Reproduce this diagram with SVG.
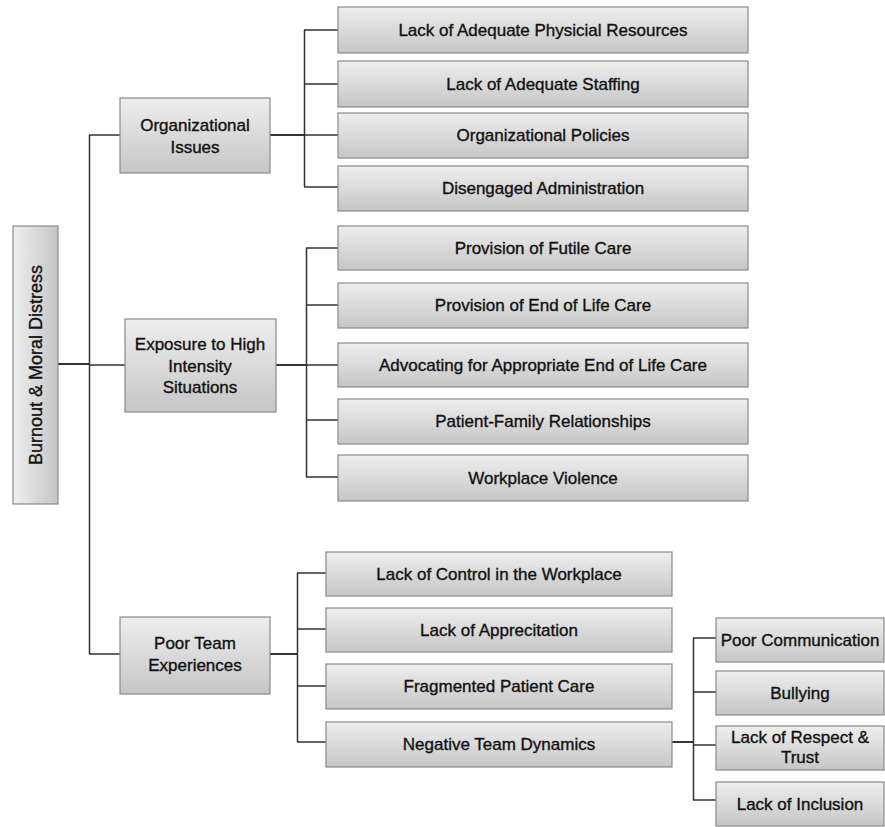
<svg xmlns="http://www.w3.org/2000/svg" width="885" height="827" viewBox="0 0 885 827">
<defs>
<linearGradient id="gv" x1="0" y1="0" x2="0" y2="1">
<stop offset="0" stop-color="#eeeeee"/>
<stop offset="1" stop-color="#c6c6c6"/>
</linearGradient>
<linearGradient id="gh" x1="0" y1="0" x2="1" y2="0">
<stop offset="0" stop-color="#eeeeee"/>
<stop offset="1" stop-color="#c6c6c6"/>
</linearGradient>
<style>
rect.b{fill:url(#gv);stroke:#8a8a8a;stroke-width:1.2}
rect.r{fill:url(#gh);stroke:#8a8a8a;stroke-width:1.2}
text{font-family:"Liberation Sans",Arial,sans-serif;font-size:17px;fill:#111;stroke:#111;stroke-width:0.35;text-anchor:middle}
#connectors path{fill:none;stroke:#333;stroke-width:1.5}
#connectors path.t{stroke-width:2}
</style>
</defs>
<rect width="885" height="827" fill="#fff"/>
<g id="connectors">
<path class="t" d="M58 364H90"/>
<path d="M89.5 135V654"/>
<path d="M89 135H120M89 365H125M89 654H120"/>
<path class="t" d="M270 135H305M276 365H306M270 654H297M672 742H693"/>
<path d="M304.5 30V187M304 30H338M304 84H338M304 135H338M304 187H338"/>
<path d="M306.5 248V477M306 248H338M306 305H338M306 365H338M306 420H338M306 477H338"/>
<path d="M297.5 573V742M297 573H326M297 629H326M297 686H326M297 742H326"/>
<path d="M693.5 638V800M693 638H716M693 692H716M693 745H716M693 800H716"/>
</g>
<g id="root"><rect class="r" x="13" y="226" width="45" height="278"/><text transform="translate(41.5 365) rotate(-90)" style="font-size:18px">Burnout &amp; Moral Distress</text></g>
<g id="org"><rect class="b" x="120" y="98" width="150" height="75"/><text x="195" y="131">Organizational</text><text x="195" y="153">Issues</text></g>
<g id="exp"><rect class="b" x="125" y="319" width="151" height="93"/><text x="200" y="350">Exposure to High</text><text x="200" y="372">Intensity</text><text x="200" y="393">Situations</text></g>
<g id="team"><rect class="b" x="120" y="617" width="150" height="77"/><text x="195" y="649">Poor Team</text><text x="195" y="671">Experiences</text></g>
<g id="o1"><rect class="b" x="338" y="7" width="410" height="46"/><text x="543" y="36">Lack of Adequate Physicial Resources</text></g>
<g id="o2"><rect class="b" x="338" y="61" width="410" height="46"/><text x="543" y="90">Lack of Adequate Staffing</text></g>
<g id="o3"><rect class="b" x="338" y="113" width="410" height="45"/><text x="543" y="141">Organizational Policies</text></g>
<g id="o4"><rect class="b" x="338" y="166" width="410" height="45"/><text x="543" y="194">Disengaged Administration</text></g>
<g id="e1"><rect class="b" x="338" y="226" width="410" height="44"/><text x="543" y="254">Provision of Futile Care</text></g>
<g id="e2"><rect class="b" x="338" y="283" width="410" height="45"/><text x="543" y="311">Provision of End of Life Care</text></g>
<g id="e3"><rect class="b" x="338" y="343" width="410" height="44"/><text x="543" y="371">Advocating for Appropriate End of Life Care</text></g>
<g id="e4"><rect class="b" x="338" y="399" width="410" height="45"/><text x="543" y="427">Patient-Family Relationships</text></g>
<g id="e5"><rect class="b" x="338" y="455" width="410" height="46"/><text x="543" y="484">Workplace Violence</text></g>
<g id="t1"><rect class="b" x="326" y="552" width="346" height="44"/><text x="499" y="580">Lack of Control in the Workplace</text></g>
<g id="t2"><rect class="b" x="326" y="608" width="346" height="44"/><text x="499" y="636">Lack of Apprecitation</text></g>
<g id="t3"><rect class="b" x="326" y="664" width="346" height="45"/><text x="499" y="692">Fragmented Patient Care</text></g>
<g id="t4"><rect class="b" x="326" y="722" width="346" height="45"/><text x="499" y="750">Negative Team Dynamics</text></g>
<g id="n1"><rect class="b" x="716" y="618" width="168" height="44"/><text x="800" y="646">Poor Communication</text></g>
<g id="n2"><rect class="b" x="716" y="671" width="168" height="44"/><text x="800" y="699">Bullying</text></g>
<g id="n3"><rect class="b" x="716" y="726" width="168" height="44"/><text x="800" y="743">Lack of Respect &amp;</text><text x="800" y="763">Trust</text></g>
<g id="n4"><rect class="b" x="716" y="782" width="168" height="44"/><text x="800" y="810">Lack of Inclusion</text></g>
</svg>
